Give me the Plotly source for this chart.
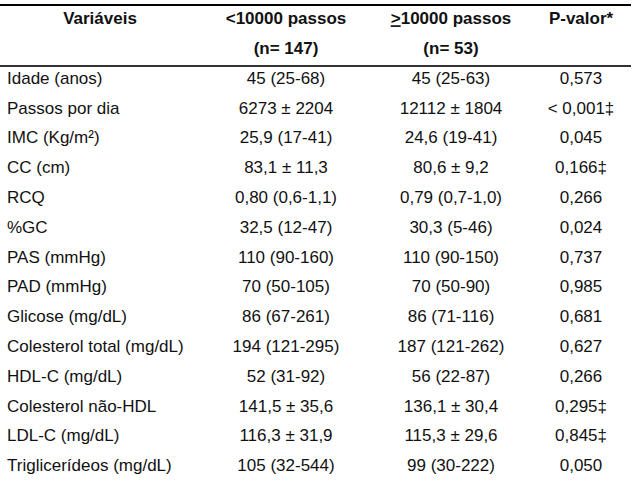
import plotly.graph_objects as go

header1 = ["Variáveis", "<10000 passos", "<u>></u>10000 passos", "P-valor*"]
header2 = ["", "(n= 147)", "(n= 53)", ""]

variaveis = ["Idade (anos)", "Passos por dia", "IMC (Kg/m²)", "CC (cm)", "RCQ", "%GC",
             "PAS (mmHg)", "PAD (mmHg)", "Glicose (mg/dL)", "Colesterol total (mg/dL)",
             "HDL-C (mg/dL)", "Colesterol não-HDL", "LDL-C (mg/dL)", "Triglicerídeos (mg/dL)"]
menos10000 = ["45 (25-68)", "6273 ± 2204", "25,9 (17-41)", "83,1 ± 11,3", "0,80 (0,6-1,1)",
              "32,5 (12-47)", "110 (90-160)", "70 (50-105)", "86 (67-261)", "194 (121-295)",
              "52 (31-92)", "141,5 ± 35,6", "116,3 ± 31,9", "105 (32-544)"]
mais10000 = ["45 (25-63)", "12112 ± 1804", "24,6 (19-41)", "80,6 ± 9,2", "0,79 (0,7-1,0)",
             "30,3 (5-46)", "110 (90-150)", "70 (50-90)", "86 (71-116)", "187 (121-262)",
             "56 (22-87)", "136,1 ± 30,4", "115,3 ± 29,6", "99 (30-222)"]
p_valor = ["0,573", "< 0,001‡", "0,045", "0,166‡", "0,266", "0,024", "0,737", "0,985",
           "0,681", "0,627", "0,266", "0,295‡", "0,845‡", "0,050"]

FONT = "Liberation Sans, Arial, sans-serif"
FS = 17
col_x = [7, 286, 451, 581]
head_x = [100, 286, 451, 581]
data_rows = list(range(2, 2 + len(variaveis)))

ROW_H = 29.8
Y0 = 20.0  # pixel of row 0 anchor

def ky(pix):
    return (pix - Y0) / ROW_H

fig = go.Figure()
fig.add_trace(go.Scatter(x=head_x, y=[0] * 4, mode="text",
                         text=["<b>%s</b>" % h for h in header1], textposition="middle center",
                         textfont=dict(family=FONT, size=FS, color="#111"), hoverinfo="skip"))
fig.add_trace(go.Scatter(x=head_x[1:3], y=[1, 1], mode="text",
                         text=["<b>%s</b>" % h for h in header2[1:3]], textposition="middle center",
                         textfont=dict(family=FONT, size=FS, color="#111"), hoverinfo="skip"))
fig.add_trace(go.Scatter(x=[col_x[0]] * len(variaveis), y=data_rows, mode="text",
                         text=variaveis, textposition="middle right",
                         textfont=dict(family=FONT, size=FS, color="#111"), hoverinfo="skip"))
for cx, vals in zip(col_x[1:], [menos10000, mais10000, p_valor]):
    fig.add_trace(go.Scatter(x=[cx] * len(vals), y=data_rows, mode="text",
                             text=vals, textposition="middle center",
                             textfont=dict(family=FONT, size=FS, color="#111"), hoverinfo="skip"))

fig.add_shape(type="line", x0=0, x1=631, y0=ky(5), y1=ky(5), xref="x", yref="y",
              line=dict(color="#000", width=2))
fig.add_shape(type="line", x0=0, x1=631, y0=ky(66), y1=ky(66), xref="x", yref="y",
              line=dict(color="#333", width=2))

fig.update_layout(
    width=634, height=483, margin=dict(l=0, r=0, t=0, b=0),
    paper_bgcolor="white", plot_bgcolor="white", showlegend=False,
    xaxis=dict(range=[0, 634], visible=False, fixedrange=True),
    yaxis=dict(range=[ky(483), ky(0)], visible=False, fixedrange=True),
)
fig.write_html("out.html", config={"displayModeBar": False},
               post_script="document.body.style.margin='0';document.body.style.overflow='hidden';")
